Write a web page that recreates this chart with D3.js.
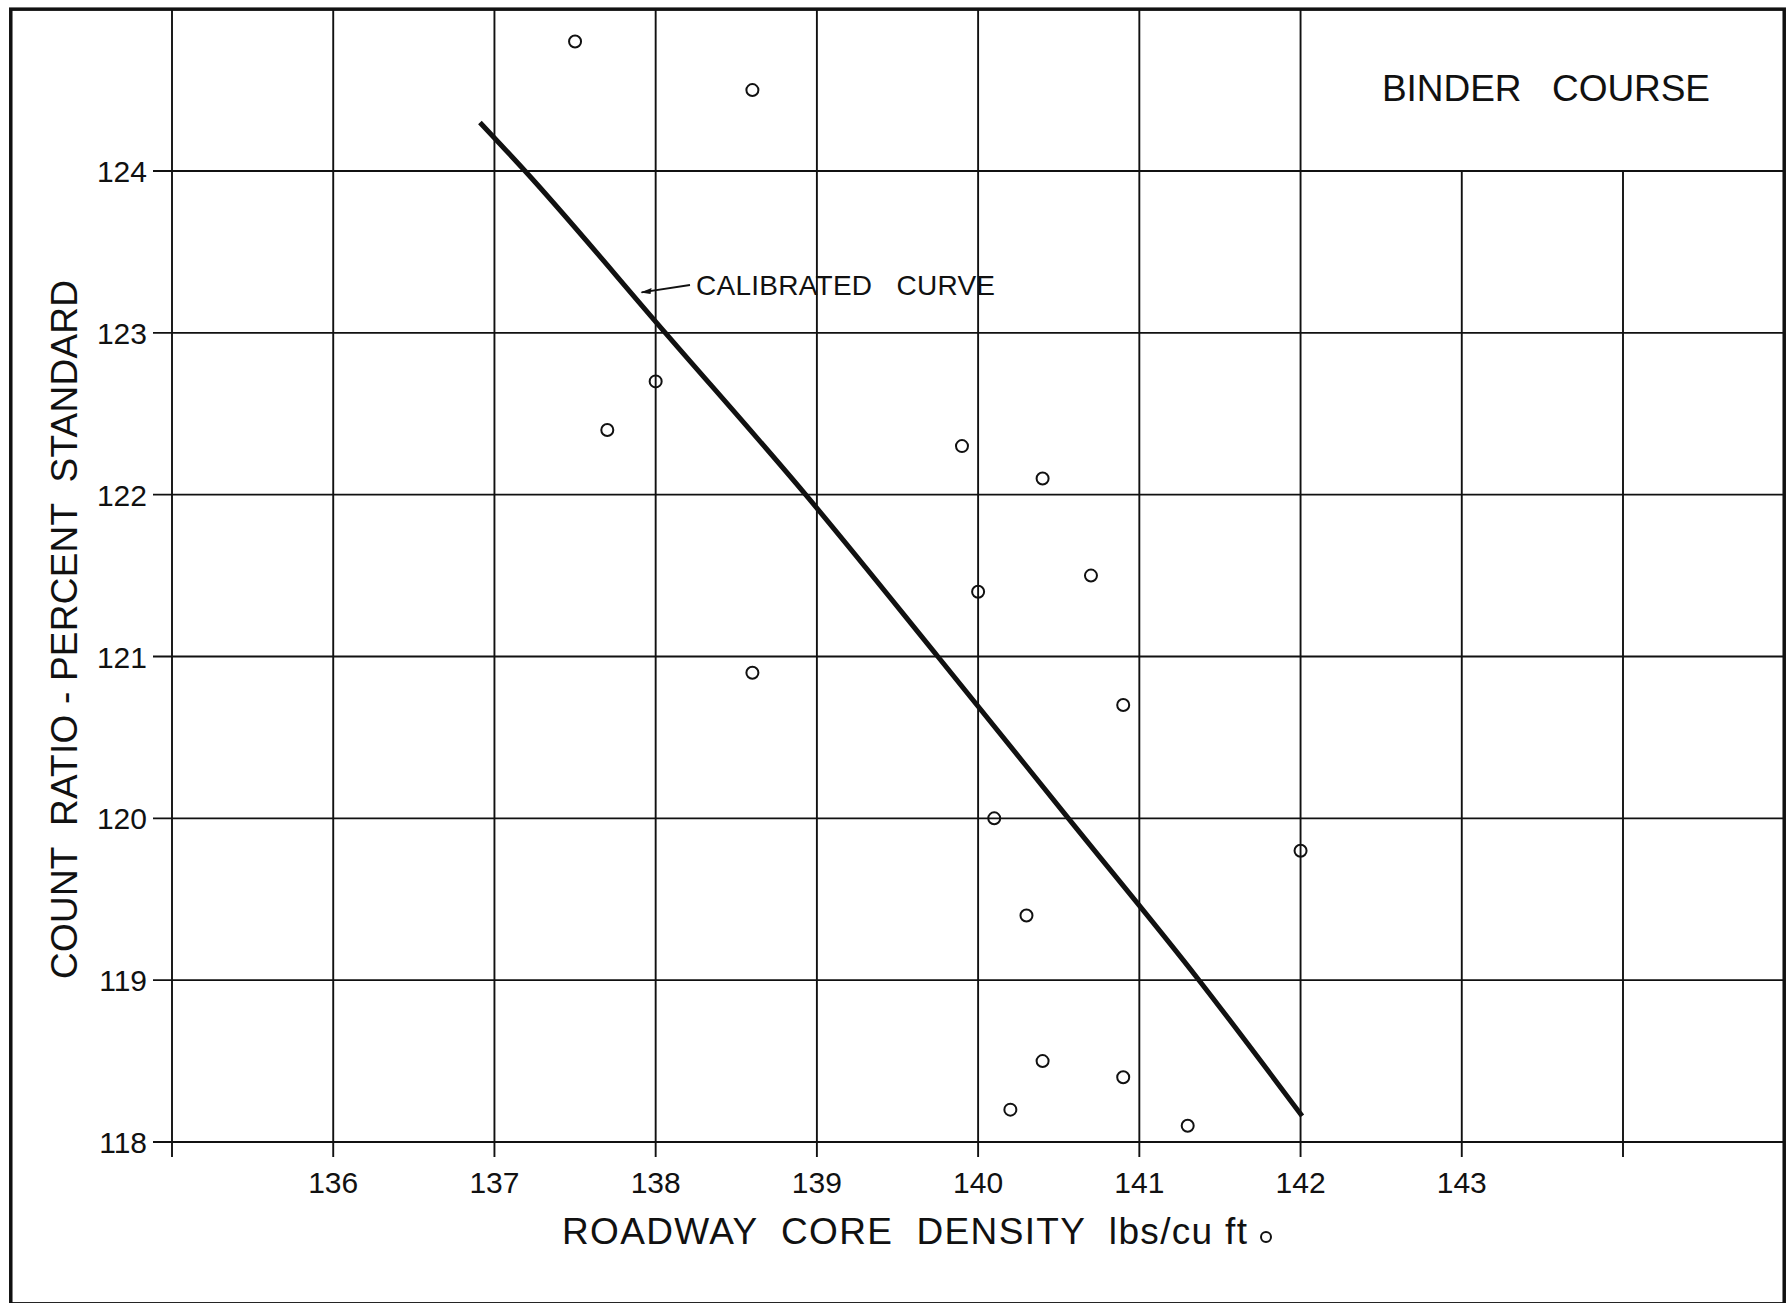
<!DOCTYPE html>
<html>
<head>
<meta charset="utf-8">
<script src="https://cdn.jsdelivr.net/npm/d3@7"></script>
<style>
    body { margin: 0; background: #fff; }
    svg { display: block; }
    text { font-family: 'Liberation Sans Narrow', 'Liberation Sans', sans-serif; fill: #111; }
</style>
</head>
<body>
<div id="target"></div>
<script>
// ticks
const xTicks = [136, 137, 138, 139, 140, 141, 142, 143]
const yTicks = [118, 119, 120, 121, 122, 123, 124]

// measured points
const densities = [137.5, 138.6, 138.0, 137.7, 138.6, 139.9, 140.4, 140.0, 140.7, 140.9, 140.1, 142.0, 140.3, 140.4, 140.9, 140.2, 141.3]
const countRatios = [124.8, 124.5, 122.7, 122.4, 120.9, 122.3, 122.1, 121.4, 121.5, 120.7, 120.0, 119.8, 119.4, 118.5, 118.4, 118.2, 118.1]

// calibrated curve
const curveDensity = [136.91, 137.19, 138.06, 138.93, 139.75, 140.56, 141.37, 142.01]
const curveRatio = [124.30, 124.0, 123.0, 122.0, 121.0, 120.0, 119.0, 118.16]

const width = 1790
const height = 1303
const ink = '#111'

const x = d3.scaleLinear().domain([135, 144]).range([172, 1623])
const y = d3.scaleLinear().domain([118, 124]).range([1142, 171])

// outer frame in data units
const frameX = [134, 145]
const frameY = [117, 125]

const svg = d3.select('#target').append('svg')
    .attr('width', width)
    .attr('height', height)

svg.append('rect')
    .attr('width', width)
    .attr('height', height)
    .attr('fill', '#fff')

const tickLen = 15

//Grid - verticals
const gridX = d3.range(135, 145)
svg.append('g')
    .selectAll('line')
    .data(gridX)
    .enter()
    .append('line')
    .attr('x1', d => x(d))
    .attr('x2', d => x(d))
    .attr('y1', d => d > 142 ? y(124) : y(frameY[1]))
    .attr('y2', y(118) + tickLen)
    .attr('stroke', ink)
    .attr('stroke-width', 1.9)

//Grid - horizontals
svg.append('g')
    .selectAll('line')
    .data(yTicks)
    .enter()
    .append('line')
    .attr('x1', x(135) - 19)
    .attr('x2', x(frameX[1]))
    .attr('y1', d => y(d))
    .attr('y2', d => y(d))
    .attr('stroke', ink)
    .attr('stroke-width', 1.9)

//Frame
svg.append('rect')
    .attr('x', x(frameX[0]))
    .attr('y', y(frameY[1]))
    .attr('width', x(frameX[1]) - x(frameX[0]))
    .attr('height', y(frameY[0]) - y(frameY[1]))
    .attr('fill', 'none')
    .attr('stroke', ink)
    .attr('stroke-width', 3.5)

//Tick labels
svg.append('g')
    .selectAll('text')
    .data(yTicks)
    .enter()
    .append('text')
    .attr('x', x(135) - 25)
    .attr('y', d => y(d) + 11)
    .attr('text-anchor', 'end')
    .attr('font-size', 30)
    .text(d => d)

svg.append('g')
    .selectAll('text')
    .data(xTicks)
    .enter()
    .append('text')
    .attr('x', d => x(d))
    .attr('y', y(118) + 51)
    .attr('text-anchor', 'middle')
    .attr('font-size', 30)
    .text(d => d)

//Axis titles
svg.append('text')
    .attr('x', 562)
    .attr('y', 1244)
    .attr('font-size', 37)
    .attr('textLength', 685)
    .attr('lengthAdjust', 'spacing')
    .style('white-space', 'pre')
    .text('ROADWAY  CORE  DENSITY  lbs/cu ft')

svg.append('circle')
    .attr('cx', 1266)
    .attr('cy', 1237)
    .attr('r', 5)
    .attr('fill', 'none')
    .attr('stroke', ink)
    .attr('stroke-width', 2)

svg.append('text')
    .attr('transform', 'translate(77,979) rotate(-90)')
    .attr('font-size', 37)
    .attr('textLength', 699)
    .attr('lengthAdjust', 'spacing')
    .style('white-space', 'pre')
    .text('COUNT  RATIO - PERCENT  STANDARD')

//Box title
svg.append('text')
    .attr('x', 1382)
    .attr('y', 101)
    .attr('font-size', 37)
    .attr('textLength', 328)
    .attr('lengthAdjust', 'spacing')
    .style('white-space', 'pre')
    .text('BINDER   COURSE')

//Calibrated curve
const curvePoints = curveDensity.map((d, i) => [d, curveRatio[i]])
const line = d3.line()
    .x(d => x(d[0]))
    .y(d => y(d[1]))
    .curve(d3.curveMonotoneX)

svg.append('path')
    .attr('d', line(curvePoints))
    .attr('fill', 'none')
    .attr('stroke', ink)
    .attr('stroke-width', 5)
    .attr('stroke-linejoin', 'round')

// callout
const calloutTip = [137.90, 123.25]
svg.append('line')
    .attr('x1', x(calloutTip[0]) + 2)
    .attr('y1', y(calloutTip[1]))
    .attr('x2', 690)
    .attr('y2', 285)
    .attr('stroke', ink)
    .attr('stroke-width', 1.8)

svg.append('path')
    .attr('d', d3.line()([
        [x(calloutTip[0]) + 1, y(calloutTip[1])],
        [x(calloutTip[0]) + 12, y(calloutTip[1]) - 4.5],
        [x(calloutTip[0]) + 11, y(calloutTip[1]) + 1.5]
    ]) + 'Z')
    .attr('fill', ink)

svg.append('text')
    .attr('x', 696)
    .attr('y', 295)
    .attr('font-size', 28)
    .attr('textLength', 299)
    .attr('lengthAdjust', 'spacing')
    .style('white-space', 'pre')
    .text('CALIBRATED   CURVE')

//Points
svg.append('g')
    .selectAll('circle')
    .data(densities.map((d, i) => [d, countRatios[i]]))
    .enter()
    .append('circle')
    .attr('cx', d => x(d[0]))
    .attr('cy', d => y(d[1]))
    .attr('r', 6)
    .attr('fill', 'none')
    .attr('stroke', ink)
    .attr('stroke-width', 2)
</script>
</body>
</html>
